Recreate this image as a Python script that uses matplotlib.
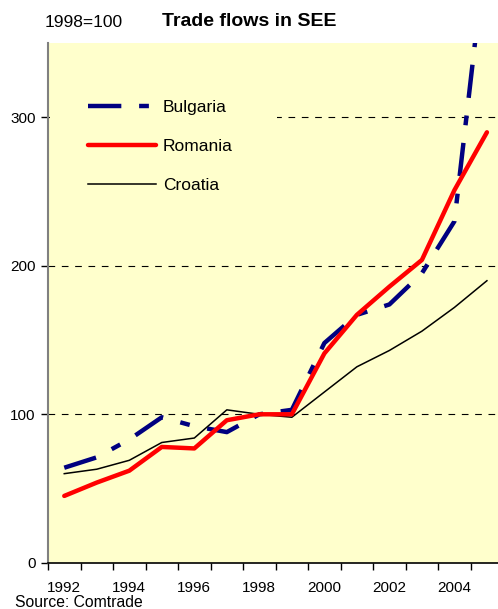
import matplotlib.pyplot as plt
import numpy as np

plt.rcParams['font.family'] = ['Liberation Sans', 'DejaVu Sans']

years = [1992, 1993, 1994, 1995, 1996, 1997, 1998, 1999,
         2000, 2001, 2002, 2003, 2004, 2005]
bulgaria = [64, 71, 83, 98, 92, 88, 100, 103, 148, 167, 174, 195, 230, 420]
romania = [45, 54, 62, 78, 77, 96, 100, 100, 141, 167, 186, 204, 251, 290]
croatia = [60, 63, 69, 81, 84, 103, 100, 98, 115, 132, 143, 156, 172, 190]
year_labels = ['1992', '', '1994', '', '1996', '', '1998', '',
               '2000', '', '2002', '', '2004', '']
y_ticks = [0, 100, 200, 300]


def main():
    fig = plt.figure(figsize=(4.98, 6.09), dpi=100)
    ax = fig.add_axes([0.0964, 0.076, 0.914, 0.853])
    ax.set_facecolor('#FFFFCC')

    x = np.arange(len(years))
    ax.plot(x, bulgaria, color='#000080', lw=3.2, dashes=(7.5, 4.0, 2.2, 4.0),
            dash_capstyle='butt', label='Bulgaria', zorder=3)
    ax.plot(x, romania, color='#FF0000', lw=3.2, solid_capstyle='round',
            label='Romania', zorder=4)
    ax.plot(x, croatia, color='black', lw=1.1, label='Croatia', zorder=3)

    ax.set_xlim(-0.5, len(years) - 0.5)
    ax.set_ylim(0, 350)
    ax.set_yticks(y_ticks)
    ax.set_yticklabels([str(v) for v in y_ticks])
    ax.set_xticks(np.arange(len(years) + 1) - 0.5)
    ax.set_xticklabels([])
    ax.set_xticks(x, minor=True)
    ax.set_xticklabels(year_labels, minor=True)
    ax.tick_params(axis='x', which='major', length=5, width=1, direction='out')
    ax.tick_params(axis='x', which='minor', length=0, labelsize=11, pad=13)
    ax.tick_params(axis='y', length=5, width=1, labelsize=11, pad=4)

    for gy in y_ticks[1:]:
        ax.axhline(gy, color='black', lw=0.8, ls=(0, (6, 6)), zorder=1)

    for side in ['top', 'right']:
        ax.spines[side].set_visible(False)
    ax.spines['left'].set_color('#808080')
    ax.spines['left'].set_linewidth(1.5)
    ax.spines['bottom'].set_linewidth(1.2)

    # wide, frameless-looking box hides the 300 gridline behind the legend
    leg = ax.legend(loc='upper left', bbox_to_anchor=(0.004, 0.764, 0.5, 0.2),
                    mode='expand', fontsize=12.5, handlelength=3.9,
                    handletextpad=0.4, labelspacing=1.37, borderaxespad=0,
                    borderpad=2.2, frameon=True, fancybox=False,
                    facecolor='#FFFFCC', edgecolor='none', framealpha=1)
    leg.set_zorder(5)

    fig.text(0.09, 0.963, '1998=100', fontsize=12.5, va='center')
    fig.text(0.5, 0.965, 'Trade flows in SEE', fontsize=14, fontweight='bold',
             ha='center', va='center')
    fig.text(0.03, 0.01, 'Source: Comtrade', fontsize=11.3, va='center')

    fig.savefig('out.png', dpi=100)


if __name__ == "__main__":
    main()
